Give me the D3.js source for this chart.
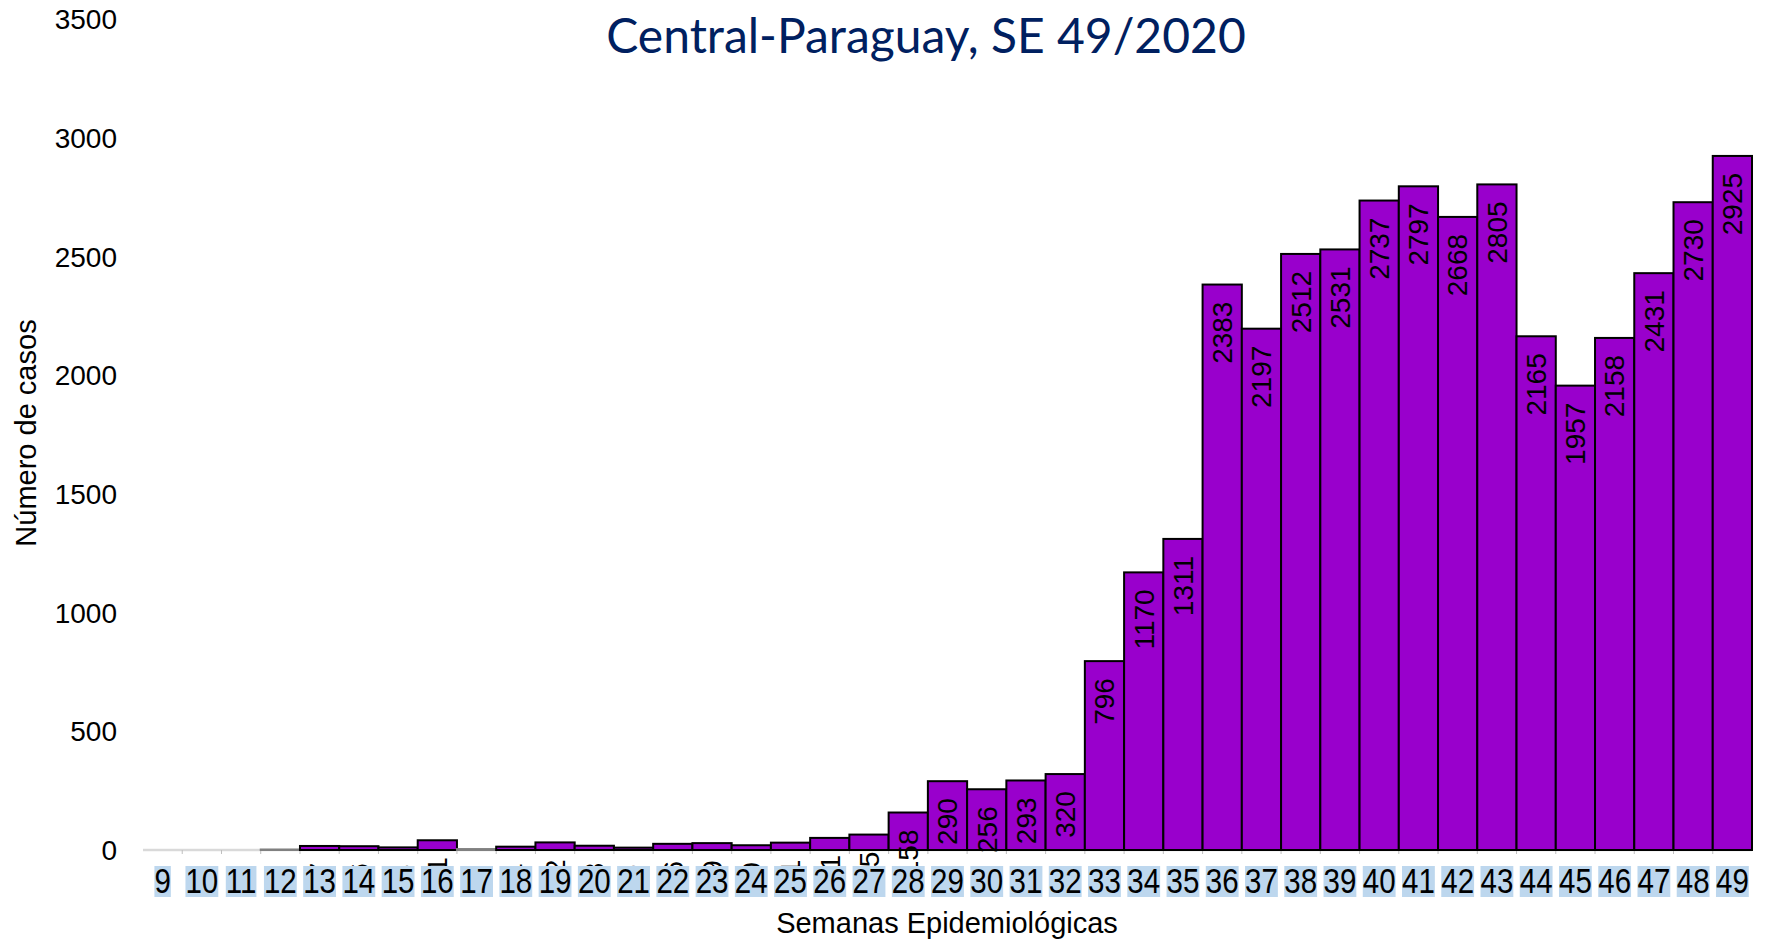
<!DOCTYPE html>
<html>
<head>
<meta charset="utf-8">
<script src="https://cdn.jsdelivr.net/npm/d3@7"></script>
<style>
  html, body { margin: 0; padding: 0; background: #fff; }
  svg { display: block; }
</style>
</head>
<body>
<div id="chart"></div>
<script>
// semanas epidemiológicas y casos por semana
const weeks = [9, 10, 11, 12, 13, 14, 15, 16, 17, 18, 19, 20, 21, 22, 23, 24, 25, 26, 27, 28, 29,
  30, 31, 32, 33, 34, 35, 36, 37, 38, 39, 40, 41, 42, 43, 44, 45, 46, 47, 48, 49];
const cases = [0, 0, 0, 2, 17, 16, 11, 41, 4, 14, 32, 18, 10, 26, 29, 20, 31, 51, 65, 158, 290,
  256, 293, 320, 796, 1170, 1311, 2383, 2197, 2512, 2531, 2737, 2797, 2668, 2805, 2165, 1957, 2158, 2431, 2730, 2925];
const yTicks = [0, 500, 1000, 1500, 2000, 2500, 3000, 3500];
const chartTitle = `Central-Paraguay, SE 49/2020`;
const xTitle = `Semanas Epidemiológicas`;
const yTitle = `Número de casos`;

class WeekBars {
  constructor(el) {
    this.el = el;
    this.width = 1772;
    this.height = 940;
    this.plot = {left: 143, right: 1752, top: 19.5, bottom: 850};
    this.barColor = `#9900cc`;
    this.font = `"Liberation Sans", Arial, sans-serif`;
    this.data = weeks.map((w, i) => ({week: w, value: cases[i]}));

    this.svg = d3.select(this.el)
      .append(`svg`)
        .attr(`width`, this.width)
        .attr(`height`, this.height);

    this.x = d3.scaleBand()
      .domain(weeks)
      .range([this.plot.left, this.plot.right])
      .padding(0);

    this.y = d3.scaleLinear()
      .domain([0, 3500])
      .range([this.plot.bottom, this.plot.top]);
  }

  drawBaseline() {
    this.svg.append(`line`)
      .attr(`x1`, this.plot.left)
      .attr(`x2`, this.plot.right)
      .attr(`y1`, this.y(0))
      .attr(`y2`, this.y(0))
      .attr(`stroke`, `#d9d9d9`)
      .attr(`stroke-width`, 2.5);

    // little marks between weeks
    this.svg.append(`g`)
      .selectAll(`line`)
      .data(weeks.slice(1))
      .enter().append(`line`)
        .attr(`x1`, d => this.x(d))
        .attr(`x2`, d => this.x(d))
        .attr(`y1`, this.y(0))
        .attr(`y2`, this.y(0) + 4)
        .attr(`stroke`, `#bfbfbf`)
        .attr(`stroke-width`, 1);
  }

  drawBars() {
    this.svg.append(`g`)
      .selectAll(`rect`)
      .data(this.data.filter(d => d.value > 0))
      .enter().append(`rect`)
        .attr(`x`, d => this.x(d.week))
        .attr(`y`, d => this.y(d.value))
        .attr(`width`, this.x.bandwidth())
        .attr(`height`, d => this.y(0) - this.y(d.value))
        .attr(`fill`, this.barColor)
        .attr(`stroke`, d => d.value < 5 ? `#808080` : `#000`)
        .attr(`stroke-width`, 2);

    this.svg.append(`g`)
      .selectAll(`text`)
      .data(this.data.filter(d => d.value > 0))
      .enter().append(`text`)
        .attr(`transform`, d => `translate(${this.x(d.week) + this.x.bandwidth() / 2},${this.y(d.value) + 17}) rotate(-90)`)
        .attr(`text-anchor`, `end`)
        .attr(`dy`, `0.35em`)
        .attr(`font-family`, this.font)
        .attr(`font-size`, 28)
        .attr(`fill`, `#000`)
        .text(d => d.value);
  }

  drawXLabels() {
    const squeeze = 0.82;
    const g = this.svg.append(`g`);
    const items = g.selectAll(`g`)
      .data(weeks)
      .enter().append(`g`)
        .attr(`transform`, d => `translate(${this.x(d) + this.x.bandwidth() / 2},0)`);

    const rects = items.append(`rect`)
      .attr(`fill`, `#bdd7ee`)
      .attr(`y`, 866)
      .attr(`height`, 31);

    const texts = items.append(`text`)
      .attr(`transform`, `translate(0,893) scale(${squeeze},1)`)
      .attr(`text-anchor`, `middle`)
      .attr(`font-family`, this.font)
      .attr(`font-size`, 36)
      .attr(`fill`, `#000`)
      .text(d => d);

    texts.each(function(d, i) {
      const w = this.getComputedTextLength() * squeeze;
      d3.select(rects.nodes()[i])
        .attr(`x`, -w / 2)
        .attr(`width`, w);
    });
  }

  drawYAxis() {
    this.svg.append(`g`)
      .selectAll(`text`)
      .data(yTicks)
      .enter().append(`text`)
        .attr(`x`, 117)
        .attr(`y`, d => this.y(d))
        .attr(`dy`, `0.35em`)
        .attr(`text-anchor`, `end`)
        .attr(`font-family`, this.font)
        .attr(`font-size`, 28)
        .attr(`fill`, `#000`)
        .text(d => d);
  }

  drawTitles() {
    this.svg.append(`text`)
      .attr(`x`, 926)
      .attr(`y`, 53)
      .attr(`text-anchor`, `middle`)
      .attr(`font-family`, `Lato, "Open Sans", sans-serif`)
      .attr(`font-size`, 48)
      .attr(`fill`, `#002060`)
      .text(chartTitle);

    this.svg.append(`text`)
      .attr(`x`, 947)
      .attr(`y`, 933)
      .attr(`text-anchor`, `middle`)
      .attr(`font-family`, this.font)
      .attr(`font-size`, 29)
      .attr(`fill`, `#000`)
      .text(xTitle);

    this.svg.append(`text`)
      .attr(`transform`, `translate(26,433) rotate(-90)`)
      .attr(`dy`, `0.35em`)
      .attr(`text-anchor`, `middle`)
      .attr(`font-family`, this.font)
      .attr(`font-size`, 29)
      .attr(`fill`, `#000`)
      .text(yTitle);
  }

  render() {
    this.drawBaseline();
    this.drawBars();
    this.drawXLabels();
    this.drawYAxis();
    this.drawTitles();
  }
}

new WeekBars(`#chart`).render();
</script>
</body>
</html>
